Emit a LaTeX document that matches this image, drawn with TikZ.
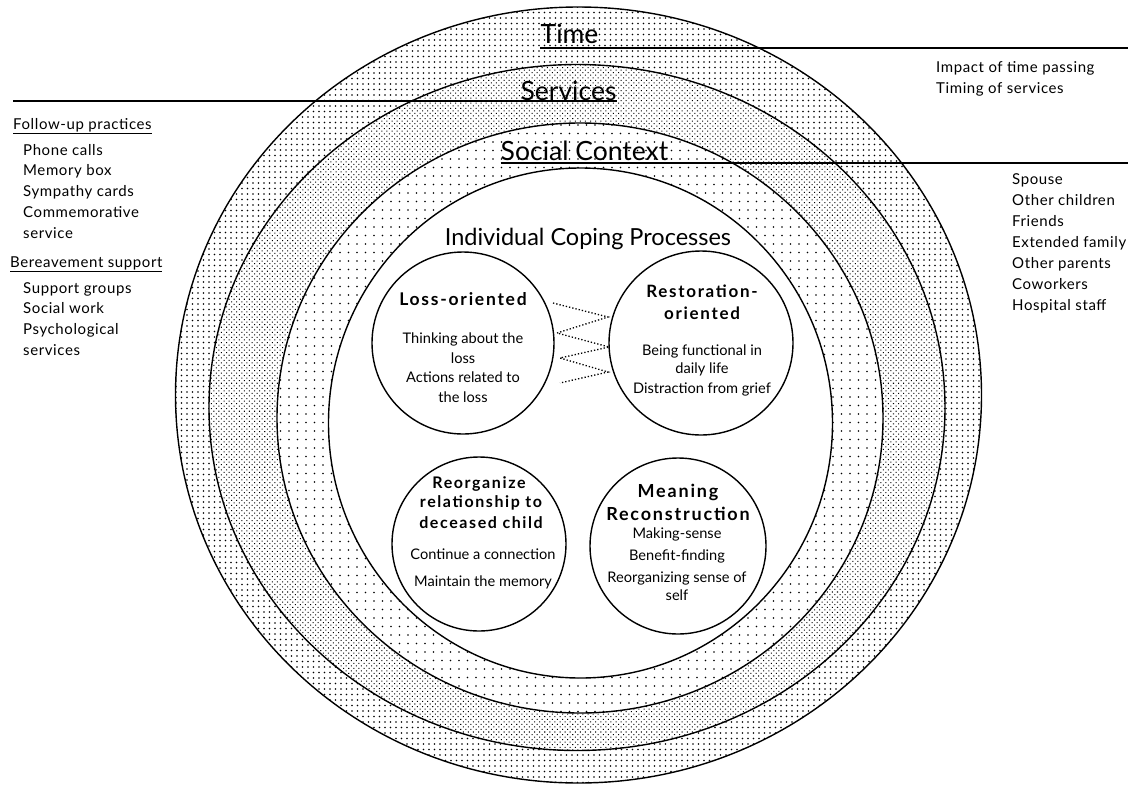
\documentclass[tikz,border=0pt]{standalone}
\usepackage{fontspec}
\setmainfont{Lato}
\newfontfamily\headfont[LetterSpace=10.0]{Lato}
\newfontfamily\listfont[LetterSpace=4.0]{Lato}
\usetikzlibrary{patterns.meta}
\begin{document}
\begin{tikzpicture}[x=1pt,y=-1pt,
  ring/.style={draw=black, line width=1.4pt, fill=white},
  timepat/.style={postaction={pattern={Dots[distance=5.5pt,radius=0.9pt]}}},
  servpat/.style={postaction={pattern={Dots[distance=3.6pt,radius=0.72pt,angle=45]}}},
  socpat/.style={postaction={pattern={Dots[distance=8.5pt,radius=0.95pt]}}},
  coping/.style={circle, draw=black, line width=1.4pt, fill=white, minimum size=#1, inner sep=0pt},
  layer/.style={font=\fontsize{26.5}{30}\selectfont, anchor=base, inner sep=0pt},
  itxt/.style={font=\listfont\fontsize{15}{21}\selectfont, anchor=base west, inner sep=0pt},
  ctitle/.style={font=\headfont\bfseries\fontsize{#1}{22}\selectfont, anchor=base, inner sep=0pt},
  cbody/.style={font=\fontsize{14.6}{19}\selectfont, anchor=base, inner sep=0pt},
  rule/.style={line width=1.2pt},
  zig/.style={dotted, line width=1.3pt}
]
\useasboundingbox (0,0) rectangle (1130,788);
\fill[white] (0,0) rectangle (1130,788);

% rings
\draw[ring, timepat] (578.5,395) ellipse [x radius=403pt, y radius=388pt];
\draw[ring, servpat] (577,407.5) ellipse [x radius=368pt, y radius=343pt];
\draw[ring, socpat] (580,418) ellipse [x radius=303pt, y radius=295pt];
\draw[ring] (580.5,423) ellipse [x radius=252pt, y radius=255pt];

% layer titles
\node[layer] (time) at (569.5,43) {Time};
\node[layer] (services) at (568.5,100) {Services};
\node[layer] (social) at (584.5,160) {Social Context};
\node[font=\fontsize{23.5}{27}\selectfont, anchor=base, inner sep=0pt] (icp) at (588,245) {Individual Coping Processes};

% underline rules
\coordinate (timeR) at (1128,48);
\coordinate (servL) at (13,101);
\coordinate (socR) at (1128,163);
\draw[rule] (time.west |- timeR) -- (timeR);
\draw[rule] (servL) -- (services.east |- servL);
\draw[rule] (social.west |- socR) -- (socR);

% right lists
\node[itxt] (t1) at (936,72) {Impact of time passing};
\node[itxt] (t2) at (936,93) {Timing of services};
\foreach \txt [count=\i from 0] in {Spouse,Other children,Friends,Extended family,Other parents,Coworkers,Hospital staff}
  \node[itxt] (sc\i) at (1012,184+21*\i) {\txt};

% left lists
\node[itxt] (fup) at (13,129) {\underline{Follow-up practices}};
\foreach \txt [count=\i from 0] in {Phone calls,Memory box,Sympathy cards,Commemorative,service}
  \node[itxt] (fu\i) at (23,155+20.8*\i) {\txt};
\node[itxt] (bsup) at (10,267) {\underline{Bereavement support}};
\foreach \txt [count=\i from 0] in {Support groups,Social work,Psychological,services}
  \node[itxt] (bs\i) at (23,293+20.7*\i) {\txt};

% coping circles
\node[coping=182pt] (loss) at (463,343) {};
\node[coping=184pt] (resto) at (701,343) {};
\node[coping=174pt] (reorg) at (479,544) {};
\node[coping=176pt] (mean) at (678,546) {};

% loss-oriented
\node[ctitle=17.5] (lossT) at (463,305) {Loss-oriented};
\node[cbody] (lossA) at (463,343) {Thinking about the};
\node[cbody] (lossB) at (463,363) {loss};
\node[cbody] (lossC) at (463,382) {Actions related to};
\node[cbody] (lossD) at (463,402) {the loss};

% restoration-oriented
\node[ctitle=17] (restoT1) at (702,297) {Restoration-};
\node[ctitle=17] (restoT2) at (702,319) {oriented};
\node[cbody] (restoA) at (702,355) {Being functional in};
\node[cbody] (restoB) at (702,373) {daily life};
\node[cbody] (restoC) at (702,393) {Distraction from grief};

% reorganize
\node[ctitle=16] (reorgT1) at (479,488) {Reorganize};
\node[ctitle=16] (reorgT2) at (481,507) {relationship to};
\node[ctitle=16] (reorgT3) at (481,528) {deceased child};
\node[cbody] (reorgA) at (483,559) {Continue a connection};
\node[cbody] (reorgB) at (483,586) {Maintain the memory};

% meaning reconstruction
\node[ctitle=18] (meanT1) at (678,497) {Meaning};
\node[ctitle=18] (meanT2) at (678,520) {Reconstruction};
\node[cbody] (meanA) at (677,538) {Making-sense};
\node[cbody] (meanB) at (677,560) {Benefit-finding};
\node[cbody] (meanC) at (677,582) {Reorganizing sense of};
\node[cbody] (meanD) at (677,600) {self};

% zigzag between loss and restoration
\coordinate (z1) at (553,303);
\coordinate (z2) at (608,317);
\coordinate (z3) at (557,333);
\coordinate (z4) at (609,347);
\coordinate (z5) at (560,358);
\coordinate (z6) at (608,372);
\coordinate (z7) at (560,383);
\draw[zig] (z1) -- (z2) -- (z3) -- (z4) -- (z5) -- (z6) -- (z7);
\end{tikzpicture}
\end{document}
